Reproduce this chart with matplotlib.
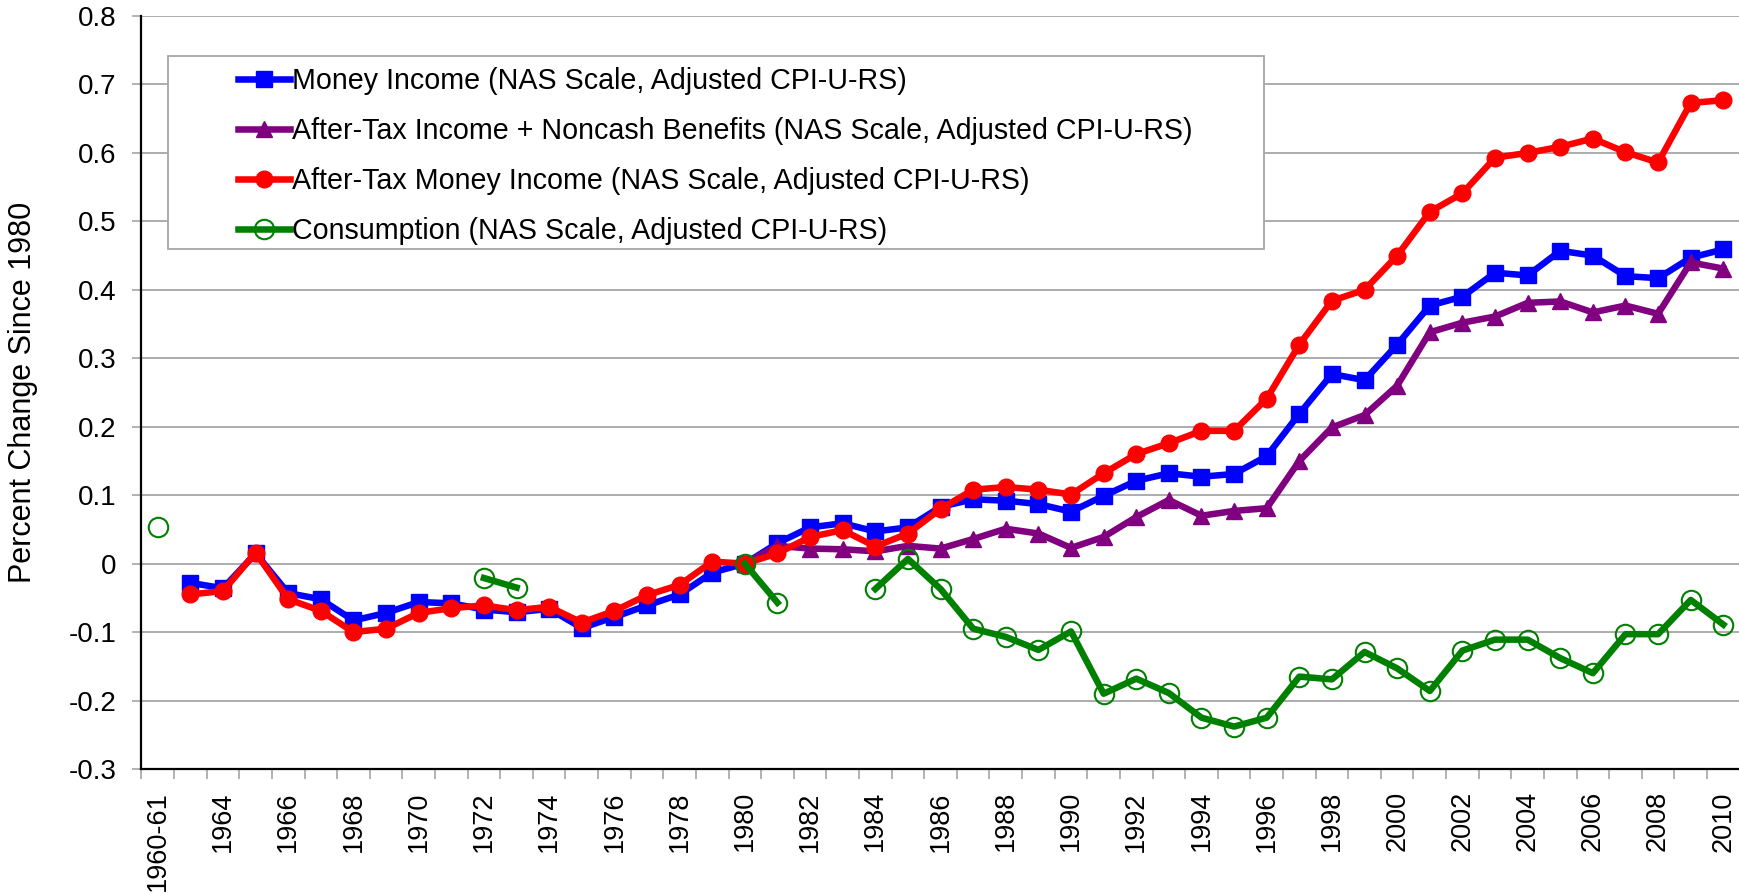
import numpy as np
import matplotlib.pyplot as plt
from matplotlib.patches import Rectangle

plt.rcParams['font.family'] = ['Liberation Sans', 'DejaVu Sans']

nan = np.nan

# x categories (first is a two-year survey)
categories = ['1960-61'] + [str(y) for y in range(1963, 2011)]

money_income = [
    nan, -0.028, -0.036, 0.015, -0.043, -0.052, -0.083, -0.072, -0.056, -0.058,
    -0.067, -0.071, -0.066, -0.094, -0.078, -0.061, -0.045, -0.013, 0.0, 0.030,
    0.053, 0.059, 0.047, 0.053, 0.083, 0.094, 0.092, 0.087, 0.076, 0.099,
    0.121, 0.132, 0.127, 0.131, 0.157, 0.219, 0.277, 0.268, 0.320, 0.377,
    0.390, 0.425, 0.421, 0.457, 0.450, 0.420, 0.417, 0.447, 0.459,
]

after_tax_noncash = [nan] * 18 + [
    0.0, 0.026, 0.022, 0.021, 0.018, 0.026, 0.022, 0.036, 0.051, 0.044,
    0.023, 0.039, 0.068, 0.093, 0.070, 0.077, 0.081, 0.150, 0.199, 0.217,
    0.260, 0.338, 0.352, 0.361, 0.381, 0.383, 0.367, 0.377, 0.365, 0.440,
    0.431,
]

after_tax_money = [
    nan, -0.045, -0.040, 0.016, -0.052, -0.069, -0.100, -0.095, -0.072, -0.065,
    -0.061, -0.068, -0.063, -0.086, -0.069, -0.046, -0.031, 0.003, 0.0, 0.015,
    0.039, 0.049, 0.025, 0.044, 0.080, 0.108, 0.112, 0.108, 0.101, 0.132,
    0.160, 0.176, 0.194, 0.194, 0.241, 0.320, 0.384, 0.400, 0.450, 0.514,
    0.541, 0.593, 0.600, 0.609, 0.621, 0.601, 0.586, 0.673, 0.677,
]

consumption = [0.054] + [nan] * 9 + [-0.021, -0.035] + [nan] * 6 + [0.0, -0.057] + [nan] * 2 + [
    -0.037, 0.007, -0.037, -0.095, -0.107, -0.126, -0.099, -0.190, -0.168, -0.189,
    -0.225, -0.238, -0.225, -0.165, -0.169, -0.129, -0.153, -0.186, -0.127, -0.111,
    -0.111, -0.138, -0.160, -0.103, -0.103, -0.053, -0.089,
]

labels = [
    'Money Income (NAS Scale, Adjusted CPI-U-RS)',
    'After-Tax Income + Noncash Benefits (NAS Scale, Adjusted CPI-U-RS)',
    'After-Tax Money Income (NAS Scale, Adjusted CPI-U-RS)',
    'Consumption (NAS Scale, Adjusted CPI-U-RS)',
]

x = np.arange(len(categories))

fig = plt.figure(figsize=(17.4, 8.94), dpi=100)
ax = fig.add_axes([0.0813, 0.1398, 0.9185, 0.8423])

lw = 4.7
ax.plot(x, money_income, color='#0000FF', lw=lw, marker='s', ms=11, label=labels[0], zorder=3)
ax.plot(x, after_tax_noncash, color='#800080', lw=lw, marker='^', ms=12, label=labels[1], zorder=4)
ax.plot(x, after_tax_money, color='#FF0000', lw=lw, marker='o', ms=12, label=labels[2], zorder=5)
ax.plot(x, consumption, color='#008000', lw=lw, marker='o', ms=14, mfc='none', mec='#008000',
        mew=1.5, label=labels[3], zorder=6)

ax.set_xlim(-0.5, len(categories) - 0.5)
ax.set_ylim(-0.3, 0.8)

# y axis
yt = np.round(np.arange(-0.3, 0.81, 0.1), 1)
ax.set_yticks(yt)
ax.set_yticklabels([f'{v:g}' for v in yt], fontsize=20)
ax.yaxis.grid(True, color='#a6a6a6', lw=1.3)
ax.tick_params(axis='y', length=6.5, color='#a6a6a6', width=1.2, pad=11.5)
ax.set_ylabel('Percent Change Since 1980', fontsize=22, labelpad=22)

# x axis: labels every other category, ticks at category boundaries
ax.set_xticks(x[::2])
ax.set_xticklabels(categories[::2], rotation=90, fontsize=19.5)
ax.tick_params(axis='x', which='major', length=0, pad=16)
ax.set_xticks(np.arange(-0.5, len(categories), 1), minor=True)
ax.tick_params(axis='x', which='minor', length=7, color='#a6a6a6', width=1.2)

ax.set_axisbelow(True)
for s in ['top', 'right']:
    ax.spines[s].set_visible(False)
ax.spines['left'].set_linewidth(1.6)
ax.spines['bottom'].set_linewidth(1.6)
ax.spines['left'].set_color('black')
ax.spines['bottom'].set_color('black')

# legend frame drawn by hand
ax.add_patch(Rectangle((0.0166, 0.6905), 0.6858, 0.2558, transform=ax.transAxes,
                       facecolor='white', edgecolor='#a6a6a6', lw=1.3, zorder=7))
leg = ax.legend(loc='upper left', bbox_to_anchor=(0.0607, 0.932), frameon=False,
                fontsize=20.6, handlelength=1.8, handletextpad=0.08, borderpad=0,
                borderaxespad=0, labelspacing=0.77)
leg.set_zorder(8)

fig.savefig('out.png', dpi=100, facecolor='white')
